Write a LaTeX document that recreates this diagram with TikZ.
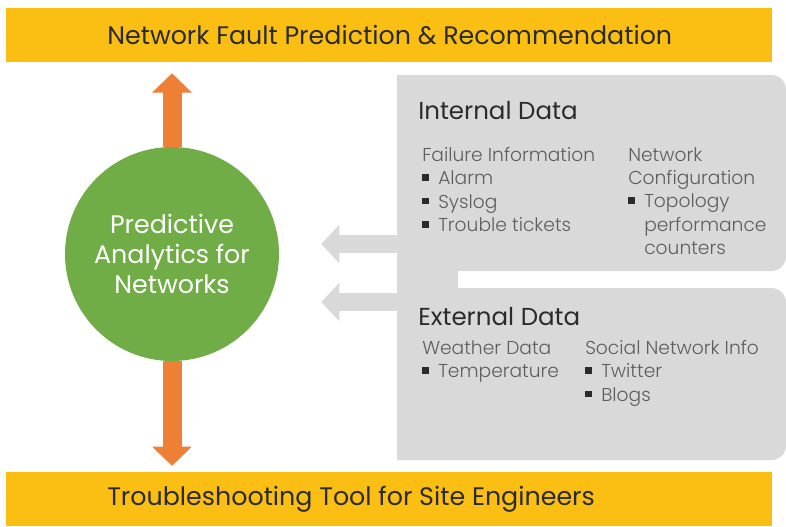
\documentclass[tikz,border=0pt]{standalone}
\usepackage{fontspec}
\setmainfont{Poppins}
\newfontfamily\poplight{Poppins Light}
\usepackage{tikz}
\usetikzlibrary{arrows.meta}

\definecolor{barYellow}{HTML}{FBBF14}
\definecolor{paGreen}{HTML}{70AD47}
\definecolor{upOrange}{HTML}{EE8035}
\definecolor{boxGray}{HTML}{D9D9D9}
\definecolor{headText}{HTML}{2B2B2B}
\definecolor{subText}{HTML}{5E5E5E}

\newcommand{\sqbul}{\textcolor{headText}{\raisebox{0.2em}{\rule{5pt}{5pt}}}\hspace{0.5em}}

\tikzset{
	bar/.style={fill=barYellow, minimum width=574.5pt, minimum height=40.5pt, inner sep=0pt},
	bartext/.style={anchor=west, inner sep=0pt, text=headText, font=\fontsize{19}{22}\selectfont},
	boxhead/.style={anchor=west, inner sep=0pt, text=headText, font=\fontsize{18.4}{22}\selectfont},
	boxlist/.style={anchor=north west, inner sep=0pt, align=left, text=subText, font=\poplight\fontsize{14}{17.5}\selectfont},
	orangearrow/.style={draw=upOrange, line width=14.25pt, -{Triangle[width=29pt,length=14.5pt]}},
	grayarrow/.style={draw=boxGray, line width=13.5pt, -{Triangle[width=28pt,length=13.5pt]}}
}

\begin{document}
\begin{tikzpicture}[x=0.75pt,y=0.75pt,yscale=-1,xscale=1]
		\useasboundingbox (0,0) rectangle (786,526);
		
		%Bars top and bottom
		\node [bar] (fault) at (389,35) {};
		\node [bar] (tool) at (389,498.5) {};
		\node [bartext] (faulttext) at (107,35) {Network Fault Prediction \& Recommendation};
		\node [bartext] (tooltext) at (107,499) {Troubleshooting Tool for Site Engineers};
		
		%Gray data boxes with the strip between them
		\fill [boxGray] (397,75) -- (700,75) [rounded corners=11pt] -- (786,75) -- (786,271) -- (700,271) [sharp corners] -- (458,271) -- (458,288) -- (700,288) [rounded corners=11pt] -- (786,288) -- (786,460) -- (700,460) [sharp corners] -- (397,460) -- cycle;
		\coordinate (inA) at (397,244);
		\coordinate (exA) at (397,302);
		
		%Circle
		\node [circle, fill=paGreen, minimum size=160.5pt, inner sep=0pt, text=white, align=center, font=\fontsize{19}{22.5}\selectfont] (pa) at (172,254) {Predictive\\Analytics for\\Networks};
		
		%Arrows
		\draw [orangearrow, shorten >=8.25pt] (pa.north) -- (pa.north |- fault.south);
		\draw [orangearrow, shorten >=4pt] (pa.south) -- (pa.south |- tool.north);
		\draw [grayarrow, shorten >=31.5pt] (inA) -- (inA -| pa.east);
		\draw [grayarrow, shorten >=31.5pt] (exA) -- (exA -| pa.east);
		
		% Text Node
		\node [boxhead] (inhead) at (418,111) {Internal Data};
		\node [boxlist] (fail) at (422,147) {Failure Information\\\sqbul Alarm\\\sqbul Syslog\\\sqbul Trouble tickets};
		\node [boxlist] (config) at (628,147) {Network\\Configuration\\\sqbul Topology\\\phantom{\sqbul}performance\\\phantom{\sqbul}counters};
		% Text Node
		\node [boxhead] (exhead) at (418,317) {External Data};
		\node [boxlist] (weather) at (422,340) {Weather Data\\\sqbul Temperature};
		\node [boxlist] (social) at (585,340) {Social Network Info\\\sqbul Twitter\\\sqbul Blogs};
		
\end{tikzpicture}
\end{document}
